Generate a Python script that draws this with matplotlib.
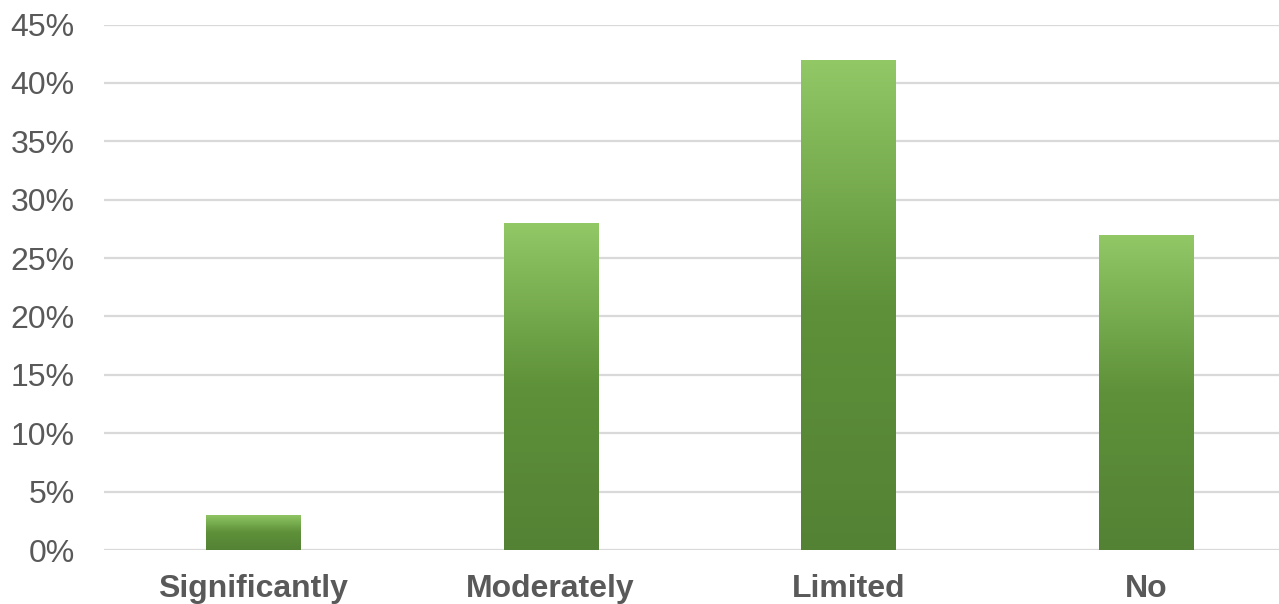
import numpy as np
import matplotlib
matplotlib.use("Agg")
import matplotlib.pyplot as plt
from matplotlib.colors import LinearSegmentedColormap
from matplotlib.ticker import FuncFormatter

categories = ["Significantly", "Moderately", "Limited", "No"]
shares = [3, 28, 42, 27]
y_ticks = [0, 5, 10, 15, 20, 25, 30, 35, 40, 45]

plt.rcParams["font.family"] = ["Liberation Sans", "DejaVu Sans"]

W, H = 1279, 604
fig = plt.figure(figsize=(W / 100, H / 100), dpi=100)
ax = fig.add_axes([104 / W, (H - 550) / H, (W - 104) / W, (550 - 24.5) / H])

bars = ax.bar(range(len(categories)), shares, width=0.316, color="none", zorder=3)

green = LinearSegmentedColormap.from_list("green", ["#548235", "#5E9139", "#92C866"])
grad = np.linspace(0, 1, 256).reshape(-1, 1)
for b in bars:
    x0, y0 = b.get_x(), b.get_y()
    w, h = b.get_width(), b.get_height()
    im = ax.imshow(grad, cmap=green, aspect="auto", origin="lower",
                   extent=(x0, x0 + w, y0, y0 + h), zorder=3, interpolation="bilinear")
    im.set_clip_path(b)

ax.set_xlim(-0.5, 3.446)
ax.set_ylim(0, 45)
ax.set_yticks(y_ticks)
ax.yaxis.set_major_formatter(FuncFormatter(lambda v, p: f"{v:.0f}%"))
ax.set_xticks(range(len(categories)))
ax.set_xticklabels(categories, fontsize=23, fontweight="bold", color="#595959")
ax.tick_params(axis="y", labelsize=23, labelcolor="#595959", length=0, pad=21)
ax.tick_params(axis="x", length=0, pad=17)

ax.grid(axis="y", color="#D9D9D9", linewidth=1.6, zorder=0)
ax.set_axisbelow(True)
for s in ax.spines.values():
    s.set_visible(False)

fig.savefig("out.png", dpi=100)
